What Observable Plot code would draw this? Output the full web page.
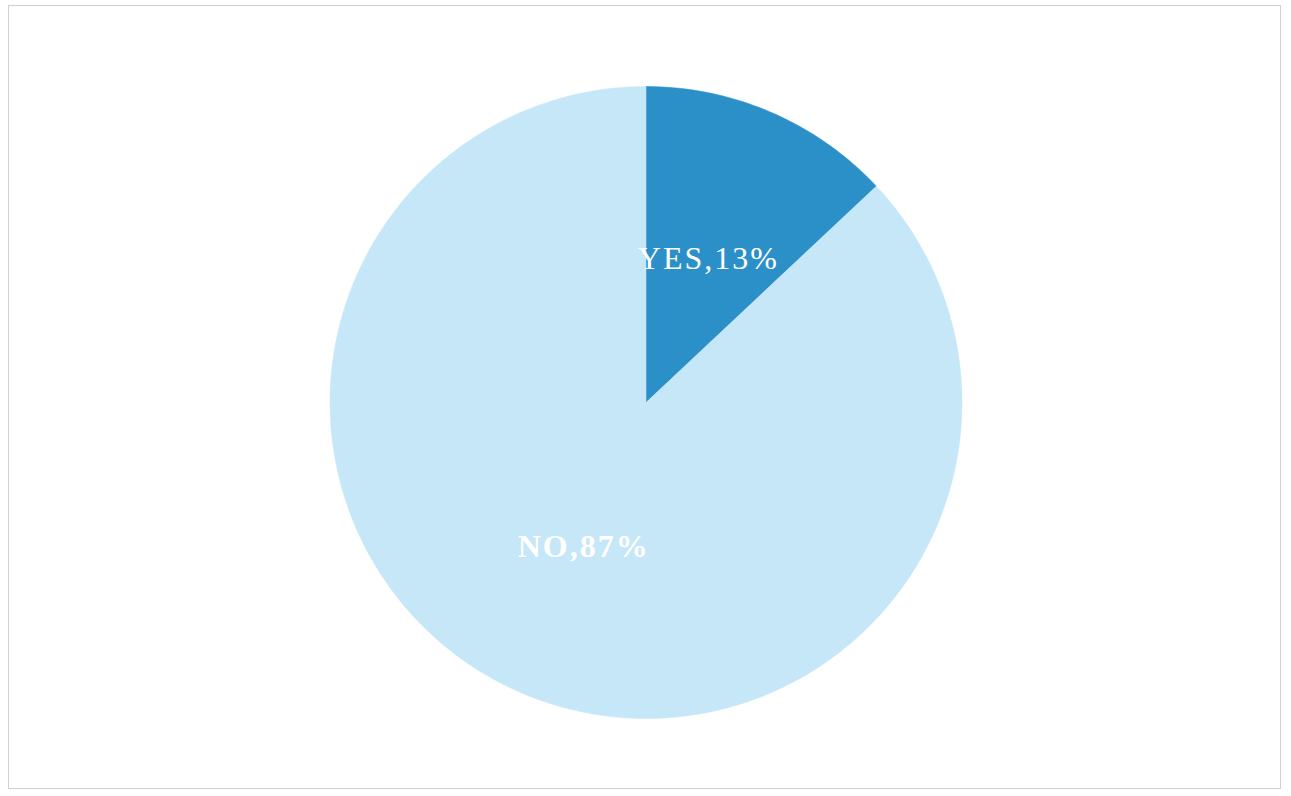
<!DOCTYPE html>
<html>
<head>
<meta charset="utf-8">
<script src="https://cdn.jsdelivr.net/npm/d3@7"></script>
<script src="https://cdn.jsdelivr.net/npm/@observablehq/plot@0.6"></script>
<style>
  html, body { margin: 0; padding: 0; background: #fff; }
  #wrap { position: relative; width: 1291px; height: 796px; }
  #frame { position: absolute; left: 8px; top: 5px; width: 1273px; height: 784px; border: 1px solid #cfcfd4; box-sizing: border-box; pointer-events: none; }
  #chart svg text { letter-spacing: 2px; }
</style>
</head>
<body>
<div id="wrap">
  <div id="chart"></div>
  <div id="frame"></div>
</div>
<script>
const categories = ["YES", "NO"];
const values = [13, 87];
const colors = ["#2c90c8", "#c6e7f8"];
const labelWeights = ["normal", "bold"];

const pie = d3.pie().sort(null).value(d => d.value)(
  categories.map((c, i) => ({ category: c, value: values[i], color: colors[i], weight: labelWeights[i] }))
);

// Build slice outlines from pie angles (angle 0 = 12 o'clock, clockwise)
const pts = [];
pie.forEach(s => {
  const n = Math.max(2, Math.ceil((s.endAngle - s.startAngle) / (Math.PI / 180)));
  pts.push({ category: s.data.category, x: 0, y: 0 });
  for (let k = 0; k <= n; k++) {
    const a = s.startAngle + (s.endAngle - s.startAngle) * k / n;
    pts.push({ category: s.data.category, x: Math.sin(a), y: Math.cos(a) });
  }
  pts.push({ category: s.data.category, x: 0, y: 0 });
});

const lr = 0.497;
const labels = pie.map(s => {
  const a = (s.startAngle + s.endAngle) / 2;
  return { text: `${s.data.category},${s.data.value}%`, x: lr * Math.sin(a), y: lr * Math.cos(a), weight: s.data.weight };
});

const plot = Plot.plot({
  width: 1291,
  height: 796,
  marginLeft: 329.5,
  marginRight: 329.5,
  marginTop: 86,
  marginBottom: 78,
  x: { domain: [-1, 1], axis: null },
  y: { domain: [-1, 1], axis: null },
  color: { domain: categories, range: colors },
  style: { background: "transparent", fontFamily: "'Liberation Serif', 'Times New Roman', serif" },
  marks: [
    Plot.line(pts, { x: "x", y: "y", z: "category", fill: "category", stroke: "category", strokeWidth: 0.5, curve: "linear" }),
    ...labels.map(l => Plot.text([l], {
      x: "x", y: "y", text: "text", fill: "white", fontSize: 32, fontWeight: l.weight,
      textAnchor: "middle", lineAnchor: "middle"
    }))
  ]
});
document.getElementById("chart").appendChild(plot);
</script>
</body>
</html>
